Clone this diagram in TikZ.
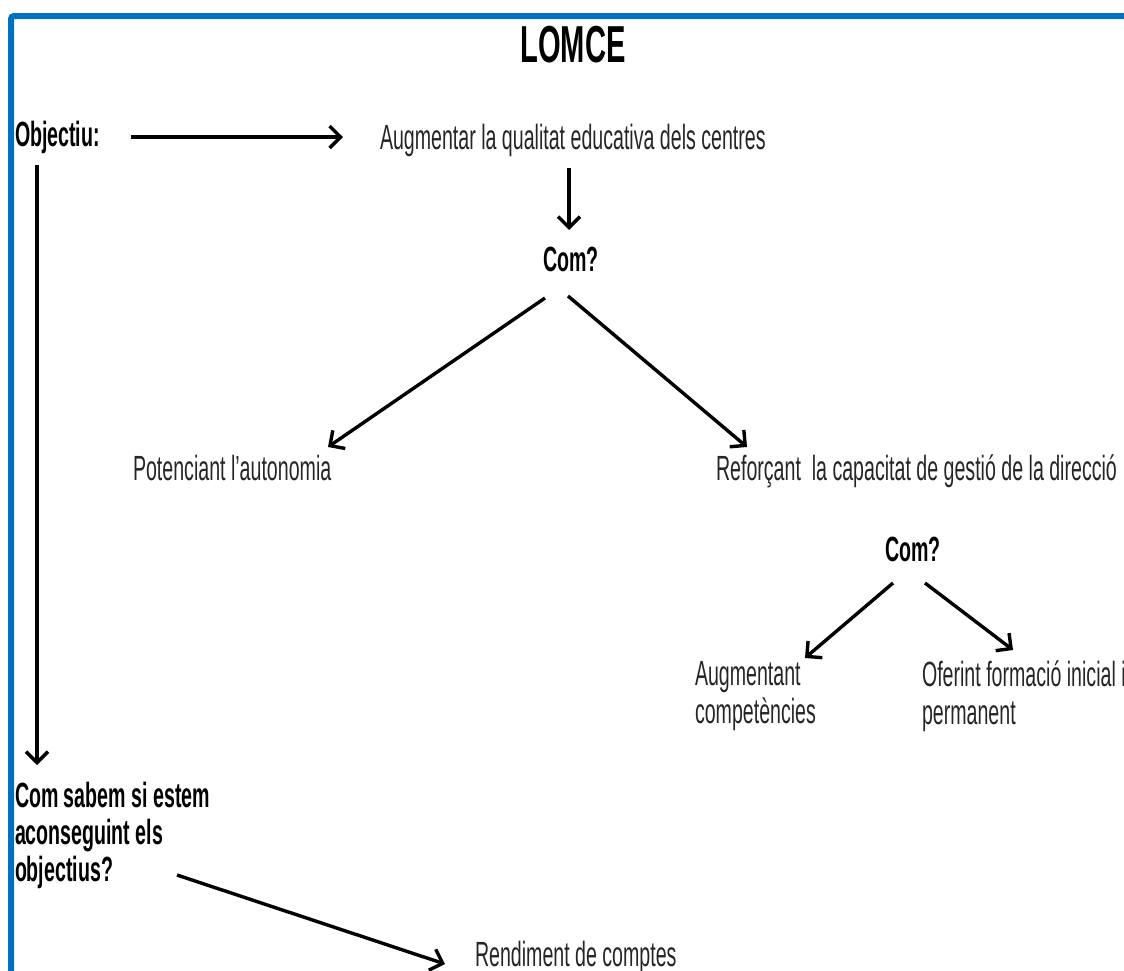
\documentclass[tikz,border=0pt]{standalone}
\usepackage{fontspec}
\setmainfont[FakeStretch=0.56]{Liberation Sans}
\usetikzlibrary{arrows.meta}
\definecolor{frameblue}{RGB}{0,112,192}
\definecolor{ink}{RGB}{38,38,38}

\begin{document}
\begin{tikzpicture}[x=1pt,y=-1pt,
  txt/.style={inner sep=0pt, outer sep=0pt, text=ink, align=left,
              font=\fontsize{35}{38}\selectfont},
  boldtxt/.style={txt, text=black, font=\fontsize{35}{37}\selectfont\bfseries},
  titletxt/.style={txt, text=black, font=\fontsize{52}{56}\selectfont\bfseries},
  arr/.style={line width=3.4pt, draw=black,
              -{Straight Barb[length=11pt,width=22pt,line width=3.4pt]}},
]
\useasboundingbox (0,0) rectangle (1124,970);
\clip (0,0) rectangle (1124,970);

% blue frame, running off the right and bottom edges
\draw[frameblue, line width=6pt, rounded corners=3pt] (11,16) rectangle (1160,1010);

% texts
\node[titletxt, anchor=base] (lomce) at (573,62) {LOMCE};
\node[boldtxt, anchor=base west] (obj) at (15,146) {Objectiu:};
\node[txt, anchor=base west] (aug) at (380,149) {Augmentar la qualitat educativa dels centres};
\node[boldtxt, anchor=base] (com1) at (571,271) {Com?};
\node[txt, anchor=base west] (auto) at (133,480) {Potenciant l’autonomia};
\node[txt, anchor=base west] (refo) at (716,480) {Reforçant\ \ la capacitat de gestió de la direcció};
\node[boldtxt, anchor=base] (com2) at (913,561) {Com?};
\node[txt, anchor=north west] (augc) at (695,661) {Augmentant\\competències};
\node[txt, anchor=north west] (ofer) at (922,661) {Oferint formació inicial i\\permanent};
\node[boldtxt, anchor=north west] (csab) at (15,782) {Com sabem si estem\\aconseguint els\\objectius?};
\node[txt, anchor=base west] (rend) at (475,966) {Rendiment de comptes};

% connectors
\draw[arr] ([shift={(31,-9)}]obj.base east) -- ([shift={(-37,-12)}]aug.base west);
\draw[arr] ([shift={(189,19)}]aug.base west) -- ([shift={(-2,-41)}]com1.base);
\draw[arr] ([shift={(-26,27)}]com1.base) -- ([shift={(195,-33)}]auto.base west);
\draw[arr] ([shift={(-3,25)}]com1.base) -- ([shift={(31,-33)}]refo.base west);
\draw[arr] ([shift={(-20,22)}]com2.base) -- ([shift={(110,-3)}]augc.north west);
\draw[arr] ([shift={(12,22)}]com2.base) -- ([shift={(91,-11)}]ofer.north west);
\draw[arr] ([shift={(22,19)}]obj.base west) -- ([shift={(22,-17)}]csab.north west);
\draw[arr] ([shift={(162,93)}]csab.north west) -- ([shift={(-30,-2)}]rend.base west);
\end{tikzpicture}
\end{document}
